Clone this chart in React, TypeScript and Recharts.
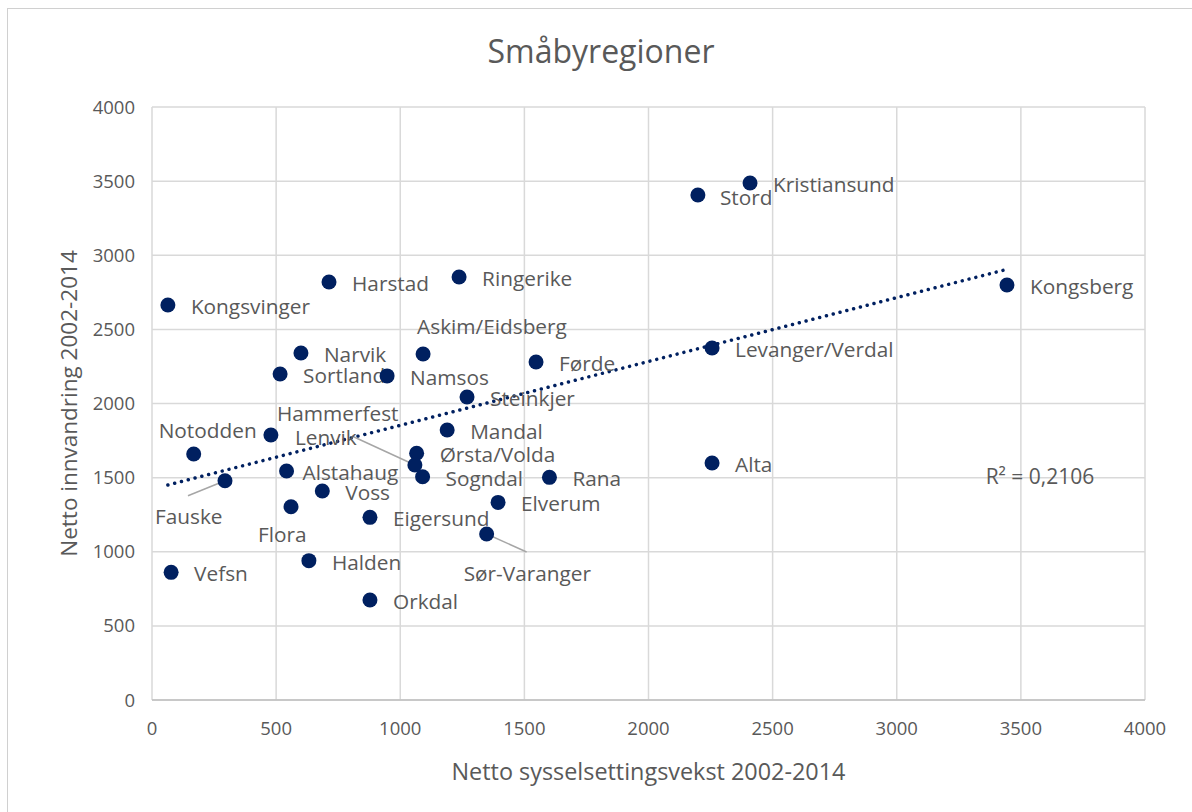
import React from 'react';
import { ScatterChart, Scatter, XAxis, YAxis, CartesianGrid, ReferenceLine, ReferenceDot } from 'recharts';

const regionNames = [
  'Kongsvinger', 'Harstad', 'Ringerike', 'Stord', 'Kristiansund', 'Kongsberg',
  'Narvik', 'Askim/Eidsberg', 'Førde', 'Levanger/Verdal', 'Sortland', 'Namsos',
  'Steinkjer', 'Hammerfest', 'Notodden', 'Mandal', 'Ørsta/Volda', 'Lenvik',
  'Sogndal', 'Rana', 'Alta', 'Fauske', 'Alstahaug', 'Voss', 'Flora', 'Eigersund',
  'Elverum', 'Sør-Varanger', 'Halden', 'Vefsn', 'Orkdal',
];
const netEmploymentGrowth = [
  64, 713, 1237, 2199, 2409, 3444,
  600, 1092, 1547, 2256, 516, 947,
  1269, 479, 168, 1189, 1066, 1059,
  1090, 1601, 2256, 294, 542, 686, 560, 878,
  1394, 1348, 632, 77, 878,
];
const netImmigration = [
  2664, 2820, 2853, 3406, 3487, 2799,
  2341, 2334, 2280, 2374, 2199, 2186,
  2044, 1788, 1659, 1821, 1664, 1585,
  1506, 1502, 1599, 1479, 1545, 1410, 1304, 1232,
  1333, 1120, 940, 861, 675,
];
const trendX = [64, 3444];
const trendY = [1450, 2905];
const axisTicks = [0, 500, 1000, 1500, 2000, 2500, 3000, 3500, 4000];
const chartTitle = 'Småbyregioner';
const xTitle = 'Netto sysselsettingsvekst 2002-2014';
const yTitle = 'Netto innvandring 2002-2014';
const rSquaredText = 'R² = 0,2106';

const points = regionNames.map((name, i) => ({ name, x: netEmploymentGrowth[i], y: netImmigration[i] }));

const FONT = '"Open Sans", sans-serif';
const TEXT = '#595959';
const NAVY = '#002060';
const GRID = '#d9d9d9';

// label placement (text start relative to dot centre) and optional leader line start
const labelPlacement: Record<string, { dx: number; dy: number; leader?: [number, number] }> = {
  Alstahaug: { dx: 16, dy: 1 },
  Notodden: { dx: -35, dy: -24 },
  Hammerfest: { dx: 6, dy: -22 },
  Lenvik: { dx: -120, dy: -28, leader: [-63, -29] },
  'Askim/Eidsberg': { dx: -6, dy: -28 },
  Fauske: { dx: -70, dy: 35, leader: [-37, 15] },
  Flora: { dx: -33, dy: 27 },
  'Sør-Varanger': { dx: -23, dy: 39, leader: [40, 18] },
  Stord: { dx: 22, dy: 2 },
};

const DotShape = (props: any) => {
  const { cx, cy } = props;
  if (cx == null || cy == null) return null;
  return <circle cx={cx} cy={cy} r={7.5} fill={NAVY} />;
};

const LabelShape = (props: any) => {
  const { cx, cy } = props;
  if (cx == null || cy == null) return null;
  const name = props.payload?.name ?? props.name;
  const p = labelPlacement[name] ?? { dx: 23, dy: 1 };
  return (
    <g>
      {p.leader && (
        <line x1={cx + p.leader[0]} y1={cy + p.leader[1]} x2={cx} y2={cy} stroke="#a6a6a6" strokeWidth={1.5} />
      )}
      <text x={cx + p.dx} y={cy + p.dy} fill={TEXT} fontSize={20.8} fontFamily={FONT} dominantBaseline="central" textAnchor="start">
        {name}
      </text>
    </g>
  );
};

const YTitle = (props: any) => {
  const vb = props.viewBox || {};
  const cy = vb.y + vb.height / 2;
  const x = 68;
  return (
    <text x={x} y={cy} transform={`rotate(-90, ${x}, ${cy})`} textAnchor="middle" dominantBaseline="central" fill={TEXT} fontSize={22.5} fontFamily={FONT}>
      {yTitle}
    </text>
  );
};

const XTitle = (props: any) => {
  const vb = props.viewBox || {};
  const cx = vb.x + vb.width / 2;
  return (
    <text x={cx} y={771} textAnchor="middle" dominantBaseline="central" fill={TEXT} fontSize={23.4} fontFamily={FONT}>
      {xTitle}
    </text>
  );
};

export default function App() {
  return (
    <div style={{ position: 'absolute', left: 0, top: 0, width: 1192, height: 812, background: '#fff', overflow: 'hidden' }}>
      <div style={{ position: 'absolute', left: 7, top: 8, right: -2, bottom: -2, borderLeft: '1px solid #d0d0d0', borderTop: '1px solid #d0d0d0' }} />
      <div style={{ position: 'absolute', left: 0, top: 29, width: 1202, textAlign: 'center', fontFamily: FONT, fontSize: 32, color: TEXT, lineHeight: '44px' }}>
        {chartTitle}
      </div>
      <div style={{ position: 'absolute', left: 0, top: 0 }}>
        <ScatterChart width={1192} height={812} margin={{ top: 107, right: 47, left: 52, bottom: 52 }}>
          <CartesianGrid stroke={GRID} strokeWidth={1.5} />
          <XAxis
            type="number"
            dataKey="x"
            domain={[0, 4000]}
            ticks={axisTicks}
            interval={0}
            height={60}
            tickLine={false}
            tickSize={0}
            tickMargin={22}
            axisLine={{ stroke: '#bfbfbf', strokeWidth: 1.5 }}
            tick={{ fill: TEXT, fontSize: 18.5, fontFamily: FONT }}
            label={<XTitle />}
          />
          <YAxis
            type="number"
            dataKey="y"
            domain={[0, 4000]}
            ticks={axisTicks}
            interval={0}
            width={100}
            tickLine={false}
            tickSize={0}
            tickMargin={17}
            axisLine={false}
            tick={{ fill: TEXT, fontSize: 18.5, fontFamily: FONT }}
            label={<YTitle />}
          />
          <Scatter data={points} shape={LabelShape} isAnimationActive={false} />
          <Scatter data={points} shape={DotShape} isAnimationActive={false} />
          <ReferenceLine
            segment={[{ x: trendX[0], y: trendY[0] }, { x: trendX[1], y: trendY[1] }]}
            stroke={NAVY}
            strokeWidth={3.5}
            strokeDasharray="0.01 7"
            strokeLinecap="round"
            ifOverflow="visible"
          />
          <ReferenceDot
            x={3577}
            y={1504}
            r={0}
            fill="none"
            stroke="none"
            label={{ value: rSquaredText, position: 'center', fill: TEXT, fontSize: 21, fontFamily: FONT }}
          />
        </ScatterChart>
      </div>
    </div>
  );
}
